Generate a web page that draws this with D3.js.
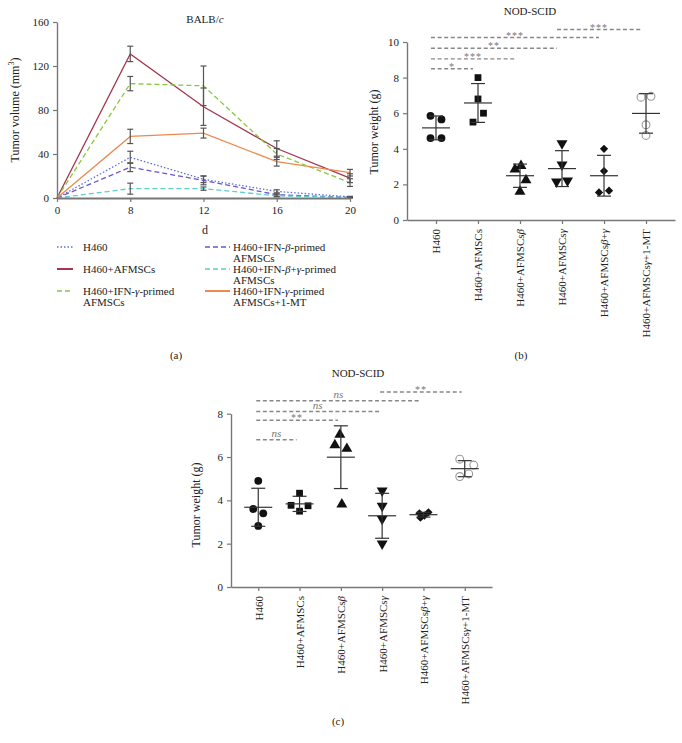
<!DOCTYPE html>
<html><head><meta charset="utf-8">
<script src="https://cdn.jsdelivr.net/npm/d3@7"></script>
<style>
body{margin:0;background:#fff}
svg{display:block}
text{font-family:"Liberation Serif","Times New Roman",serif;fill:#222}
</style>
</head><body>
<svg id="chart" width="682" height="743"></svg>
<script>
// ---------- DATA ----------
// Panel (a): tumor volume (mm^3) by day, BALB/c
const days = ["0", "8", "12", "16", "20"];
const volTicks = [0, 40, 80, 120, 160];
const seriesNames = [
  "H460",
  "H460+AFMSCs",
  "H460+IFN-γ-primed AFMSCs",
  "H460+IFN-β-primed AFMSCs",
  "H460+IFN-β+γ-primed AFMSCs",
  "H460+IFN-γ-primed AFMSCs+1-MT"
];
const volH460        = [0, 37, 17, 6, 1];
const volH460Err     = [0, 5.5, 3, 1.5, 0.5];
const volAFMSC       = [0, 131, 83, 45, 18];
const volAFMSCErr    = [0, 7, 17, 7, 4];
const volGamma       = [0, 104, 102, 40, 14];
const volGammaErr    = [0, 6.5, 18, 5, 3.5];
const volBeta        = [0, 28, 16, 3, 0.5];
const volBetaErr     = [0, 4, 4, 1.5, 0.5];
const volBetaGamma   = [0, 8.5, 8.5, 2, 0.5];
const volBetaGammaErr= [0, 5, 1.5, 1, 0.3];
const volGamma1MT    = [0, 56, 59, 33, 23];
const volGamma1MTErr = [0, 6.5, 4.5, 4, 3];

// Panels (b) and (c): tumor weight (g), NOD-SCID
const groups = ["H460", "H460+AFMSCs", "H460+AFMSCsβ", "H460+AFMSCsγ", "H460+AFMSCsβ+γ", "H460+AFMSCsγ+1-MT"];
const weightTicksB = [0, 2, 4, 6, 8, 10];
const weightTicksC = [0, 2, 4, 6, 8];
const wB_H460   = [5.85, 5.65, 4.6, 4.6];
const wB_AFMSC  = [8.0, 6.8, 6.0, 5.5];
const wB_Beta   = [2.9, 3.1, 2.3, 1.65];
const wB_Gamma  = [4.25, 3.05, 2.1, 2.15];
const wB_BG     = [4.0, 2.75, 1.55, 1.65];
const wB_G1MT   = [6.9, 6.95, 5.35, 4.75];
const sigB_pairs  = [[0, 1], [0, 2], [0, 3], [0, 4], [3, 5]];
const sigB_labels = ["*", "***", "**", "***", "***"];
const sigB_levels = [8.5, 9.05, 9.65, 10.25, 10.7];

const wC_H460   = [4.9, 3.6, 3.4, 2.82];
const wC_AFMSC  = [4.33, 3.77, 3.75, 3.5];
const wC_Beta   = [7.08, 6.6, 6.43, 3.86];
const wC_Gamma  = [4.4, 3.7, 3.1, 1.95];
const wC_BG     = [3.4, 3.45, 3.2, 3.3];
const wC_G1MT   = [5.9, 5.63, 5.1, 5.22];
const sigC_pairs  = [[0, 1], [0, 2], [0, 3], [0, 4], [3, 5]];
const sigC_labels = ["ns", "**", "ns", "ns", "**"];
const sigC_levels = [6.8, 7.7, 8.1, 8.6, 9.0];

// ---------- STYLE / LAYOUT ----------
const seriesStyle = [
  {color: "#5e6fd6", dash: "1.5,2"},
  {color: "#a3354f", dash: null},
  {color: "#8cc63f", dash: "5,3"},
  {color: "#6a57cc", dash: "5,3"},
  {color: "#5ecbcc", dash: "5,3"},
  {color: "#ec8a4e", dash: null}
];
const jitterB = [[-5.5, 5.5, -5.5, 5.5], [0, 0, 5.5, -5], [-5, 1, 6, 0], [0, 0, -5.5, 5.5], [0, 0, -5, 5], [-5, 5, 0, 0]];
const jitterC = [[0, -5, 5, 0], [0, -8.5, 8.5, 0], [-1, -6, 6, 1], [0, 0, 0, 0], [-4, 5, -3, 1], [-5, 9, -5, 4]];

const svg = d3.select("#chart");
const FS = 11;

function rich(sel, str) {
  str.split(/([βγ])/).forEach(p => {
    if (!p) return;
    const t = sel.append("tspan").text(p);
    if (/[βγ]/.test(p)) t.style("font-style", "italic");
  });
}
function styleAxis(g) {
  g.select(".domain").attr("stroke", "#777").attr("stroke-width", 1.4);
  g.selectAll(".tick line").attr("stroke", "#777").attr("stroke-width", 1.2);
  g.selectAll(".tick text").attr("fill", "#222").style("font-family", '"Liberation Serif",serif').style("font-size", FS + "px");
}

// ---------- PANEL (a) ----------
(function () {
  const x = d3.scalePoint().domain(days).range([57, 350]);
  const y = d3.scaleLinear().domain([0, 160]).range([198, 22]);
  const g = svg.append("g");
  const vals = [volH460, volAFMSC, volGamma, volBeta, volBetaGamma, volGamma1MT];
  const errs = [volH460Err, volAFMSCErr, volGammaErr, volBetaErr, volBetaGammaErr, volGamma1MTErr];
  const line = d3.line().x((d, i) => x(days[i])).y(d => y(d));
  vals.forEach((v, s) => {
    g.append("path").attr("d", line(v)).attr("fill", "none")
      .attr("stroke", seriesStyle[s].color).attr("stroke-width", 1.3)
      .attr("stroke-dasharray", seriesStyle[s].dash);
  });
  vals.forEach((v, s) => {
    v.forEach((m, i) => {
      if (i === 0) return;
      const e = errs[s][i], cx = x(days[i]);
      const eg = g.append("g").attr("stroke", "#555").attr("stroke-width", 1.2);
      eg.append("line").attr("x1", cx).attr("x2", cx).attr("y1", y(m - e)).attr("y2", y(m + e));
      [m - e, m + e].forEach(t => eg.append("line").attr("x1", cx - 3).attr("x2", cx + 3).attr("y1", y(t)).attr("y2", y(t)));
    });
  });
  const ya = g.append("g").attr("transform", "translate(57,0)")
    .call(d3.axisLeft(y).tickValues(volTicks).tickSize(4).tickSizeOuter(0).tickPadding(4));
  styleAxis(ya);
  const xa = g.append("g").attr("transform", "translate(0,198)")
    .call(d3.axisBottom(x).tickSize(4).tickSizeOuter(0).tickPadding(4));
  styleAxis(xa);
  xa.select(".domain").attr("stroke-width", 2);

  const t = g.append("text").attr("x", 205).attr("y", 23).attr("text-anchor", "middle").style("font-size", FS + "px");
  t.append("tspan").text("BALB/");
  t.append("tspan").text("c").style("font-style", "italic");

  const yl = g.append("text").attr("transform", "translate(19,110) rotate(-90)").attr("text-anchor", "middle").style("font-size", "12px");
  yl.append("tspan").text("Tumor volume (mm");
  yl.append("tspan").text("3").attr("dy", -5).style("font-size", "8px");
  yl.append("tspan").text(")").attr("dy", 5);

  g.append("text").attr("x", 205).attr("y", 234).attr("text-anchor", "middle").style("font-size", "12px").text("d");

  // legend
  const legPos = [
    {lx: 57, lw: 16, tx: 83, y: 247},
    {lx: 57, lw: 16, tx: 83, y: 269},
    {lx: 57, lw: 16, tx: 83, y: 291},
    {lx: 205, lw: 25, tx: 233, y: 247},
    {lx: 205, lw: 25, tx: 233, y: 269},
    {lx: 205, lw: 25, tx: 233, y: 291}
  ];
  const wrap = [
    ["H460"],
    ["H460+AFMSCs"],
    ["H460+IFN-γ-primed", "AFMSCs"],
    ["H460+IFN-β-primed", "AFMSCs"],
    ["H460+IFN-β+γ-primed", "AFMSCs"],
    ["H460+IFN-γ-primed", "AFMSCs+1-MT"]
  ];
  seriesNames.forEach((nm, s) => {
    const p = legPos[s];
    g.append("line").attr("x1", p.lx).attr("x2", p.lx + p.lw).attr("y1", p.y).attr("y2", p.y)
      .attr("stroke", seriesStyle[s].color).attr("stroke-width", s === 1 || s === 5 ? 2 : 1.4)
      .attr("stroke-dasharray", seriesStyle[s].dash);
    wrap[s].forEach((ln, k) => {
      const tt = g.append("text").attr("x", p.tx).attr("y", p.y + 4 + k * 11).style("font-size", FS + "px");
      rich(tt, ln);
    });
  });
  g.append("text").attr("x", 176).attr("y", 359).attr("text-anchor", "middle").style("font-size", FS + "px").text("(a)");
})();

// ---------- scatter panel helper ----------
function scatterPanel(opt) {
  const g = svg.append("g");
  const x = d3.scalePoint().domain(groups).range(opt.xr).padding(opt.pad);
  const y = d3.scaleLinear().domain(opt.yd).range(opt.yr);

  // significance bars
  opt.pairs.forEach((pr, k) => {
    const x1 = x(groups[pr[0]]) + opt.sigOff[0], x2 = x(groups[pr[1]]) + opt.sigOff[1];
    const yy = y(opt.levels[k]);
    g.append("line").attr("x1", x1).attr("x2", x2).attr("y1", yy).attr("y2", yy)
      .attr("stroke", "#888").attr("stroke-width", 1.4).attr("stroke-dasharray", "4,2.6");
    const isNs = opt.labels[k] === "ns";
    g.append("text").attr("x", (x1 + x2) / 2).attr("y", isNs ? yy - 3 : yy + 1)
      .attr("text-anchor", "middle").style("fill", "#777")
      .style("font-size", isNs ? "11px" : "10px").style("font-style", isNs ? "italic" : "normal")
      .style("letter-spacing", isNs ? "0" : "1px")
      .text(opt.labels[k]);
  });

  const shapes = [d3.symbolCircle, d3.symbolSquare, d3.symbolTriangle, d3.symbolTriangle, d3.symbolSquare, d3.symbolCircle];
  const rot = [0, 0, 0, 180, 45, 0];
  const sizes = [48, 46, 52, 52, 34, 48];
  opt.data.forEach((arr, gi) => {
    const cx = x(groups[gi]);
    const m = d3.mean(arr), sd = d3.deviation(arr);
    const open = gi === 5;
    arr.forEach((v, k) => {
      const sym = d3.symbol().type(shapes[gi]).size(sizes[gi]);
      const dyT = gi === 2 ? 1 : (gi === 3 ? -1 : 0);
      g.append("path").attr("d", sym())
        .attr("transform", `translate(${cx + opt.jitter[gi][k]},${y(v) + dyT}) rotate(${rot[gi]})`)
        .attr("fill", open ? "none" : "#111").attr("stroke", open ? "#999" : "none").attr("stroke-width", 1.1);
    });
    const eg = g.append("g").attr("stroke", "#333").attr("stroke-width", 1.2);
    eg.append("line").attr("x1", cx).attr("x2", cx).attr("y1", y(m - sd)).attr("y2", y(m + sd));
    [m - sd, m + sd].forEach(t => eg.append("line").attr("x1", cx - 7).attr("x2", cx + 7).attr("y1", y(t)).attr("y2", y(t)));
    eg.append("line").attr("x1", cx - 14).attr("x2", cx + 14).attr("y1", y(m)).attr("y2", y(m));
  });

  const ya = g.append("g").attr("transform", `translate(${opt.xr[0]},0)`)
    .call(d3.axisLeft(y).tickValues(opt.ticks).tickSize(4).tickSizeOuter(0).tickPadding(4));
  styleAxis(ya);
  const xa = g.append("g").attr("transform", `translate(0,${opt.yr[0]})`)
    .call(d3.axisBottom(x).tickSize(4).tickSizeOuter(0));
  styleAxis(xa);
  xa.selectAll(".tick text").each(function (d) {
    const s = d3.select(this).text("");
    s.attr("transform", "rotate(-90)").attr("x", -9).attr("y", 0).attr("dy", "0.35em").style("text-anchor", "end");
    rich(s, d);
  });

  g.append("text").attr("x", opt.title[0]).attr("y", opt.title[1]).attr("text-anchor", "middle").style("font-size", FS + "px").text("NOD-SCID");
  g.append("text").attr("transform", `translate(${opt.ylab[0]},${opt.ylab[1]}) rotate(-90)`).attr("text-anchor", "middle")
    .style("font-size", "12px").text("Tumor weight (g)");
  g.append("text").attr("x", opt.cap[0]).attr("y", opt.cap[1]).attr("text-anchor", "middle").style("font-size", FS + "px").text(opt.cap[2]);
}

// ---------- PANEL (b) ----------
scatterPanel({
  xr: [407, 675], pad: 0.69, yd: [0, 10], yr: [220, 42], ticks: weightTicksB,
  data: [wB_H460, wB_AFMSC, wB_Beta, wB_Gamma, wB_BG, wB_G1MT], jitter: jitterB,
  pairs: sigB_pairs, labels: sigB_labels, levels: sigB_levels, sigOff: [-5, -5],
  title: [530, 15], ylab: [378, 132], cap: [521, 359, "(b)"]
});

// ---------- PANEL (c) ----------
scatterPanel({
  xr: [231, 492], pad: 0.66, yd: [0, 8], yr: [587, 413.7], ticks: weightTicksC,
  data: [wC_H460, wC_AFMSC, wC_Beta, wC_Gamma, wC_BG, wC_G1MT], jitter: jitterC,
  pairs: sigC_pairs, labels: sigC_labels, levels: sigC_levels, sigOff: [-2, -3],
  title: [358, 377], ylab: [200, 505], cap: [338, 725, "(c)"]
});
</script>
</body></html>
